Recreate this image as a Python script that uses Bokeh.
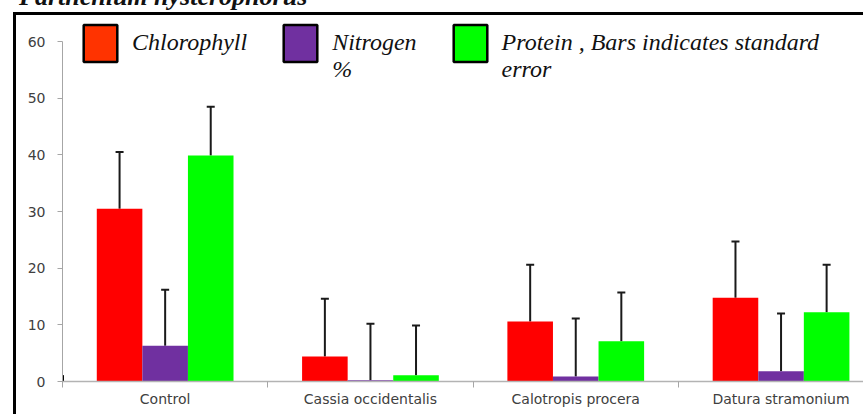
from bokeh.plotting import figure
from bokeh.layouts import column
from bokeh.models import (ColumnDataSource, Whisker, TeeHead, FixedTicker, Range1d,
                          Legend, LegendItem, Div)
from bokeh.embed import file_html
from bokeh.resources import INLINE

# ---- data ----
categories = ["Control", "Cassia occidentalis", "Calotropis procera", "Datura stramonium"]
chlorophyll = [30.5, 4.4, 10.6, 14.8]
chlorophyll_err = [10.0, 10.2, 10.0, 9.9]
nitrogen = [6.3, 0.2, 0.9, 1.8]
nitrogen_err = [9.9, 10.0, 10.2, 10.2]
protein = [39.9, 1.1, 7.1, 12.2]
protein_err = [8.6, 8.8, 8.6, 8.4]
series_names = ["Chlorophyll", "\nNitrogen\n%", "\nProtein , Bars indicates standard\nerror"]
y_ticks = [0, 10, 20, 30, 40, 50, 60]
title_text = "Parthenium hysterophorus"

# ---- styles ----
bar_colors = ["#ff0000", "#7030a0", "#00ff00"]
swatch_colors = ["#ff3300", "#7030a0", "#00ff00"]
BAR_W = 0.222
offsets = [-BAR_W, 0.0, BAR_W]
PX_PER_UNIT = 340 / 60.0
FRAME_TOP = 0
Y0_PIX = 381
W, H = 863, 414

n = len(categories)
x_end = (W - 62) / 205.3
y_end = (Y0_PIX - FRAME_TOP) / PX_PER_UNIT

p = figure(width=W, height=H, output_backend="svg", toolbar_location=None,
           x_range=Range1d(0, x_end), y_range=Range1d(0, y_end),
           min_border_left=62, min_border_right=0, min_border_top=FRAME_TOP,
           min_border_bottom=H - Y0_PIX)
# black frame of the document figure (top and left edges) painted behind a transparent canvas
p.styles = {"background-image": "linear-gradient(#000,#000), linear-gradient(#000,#000)",
            "background-size": "3px 100%, 100% 3px",
            "background-position": "13px 12px, 13px 12px",
            "background-repeat": "no-repeat"}
p.grid.visible = False
p.outline_line_color = None
p.background_fill_alpha = 0
p.border_fill_alpha = 0

series = [(chlorophyll, chlorophyll_err), (nitrogen, nitrogen_err), (protein, protein_err)]
for k, (vals, errs) in enumerate(series):
    xs = [i + 0.5 + offsets[k] for i in range(n)]
    src = ColumnDataSource(dict(x=xs, top=vals, upper=[v + e for v, e in zip(vals, errs)]))
    p.vbar(x="x", top="top", bottom=0, width=BAR_W, source=src,
           fill_color=bar_colors[k], line_color=None)
    p.add_layout(Whisker(source=src, base="x", lower="top", upper="upper",
                         dimension="height", line_color="#1a1a1a", line_width=2,
                         upper_head=TeeHead(size=8, line_color="#1a1a1a", line_width=2),
                         lower_head=None))

# legend with off-range proxy renderers (black-bordered swatches)
items = []
for k in range(3):
    r = p.vbar(x=[-5], top=[1], width=0.1, fill_color=swatch_colors[k],
               line_color="black", line_width=2.5)
    items.append(LegendItem(label=series_names[k], renderers=[r]))
legend = Legend(items=items, orientation="horizontal", location=(17, 298),
                margin=0, padding=0, spacing=32, label_standoff=11,
                glyph_width=42, glyph_height=46,
                border_line_color=None, background_fill_alpha=0,
                label_text_font="Liberation Serif", label_text_font_style="italic",
                label_text_font_size="24px", label_text_color="#111111",
                label_text_line_height=1.17)
p.add_layout(legend, "center")

# y axis
ya = p.yaxis[0]
ya.ticker = FixedTicker(ticks=y_ticks)
ya.bounds = (0, 60)
ya.axis_line_color = "#a6a6a6"
ya.major_tick_line_color = "#a6a6a6"
ya.minor_tick_line_color = None
ya.major_tick_out = 5
ya.major_tick_in = 0
ya.major_label_standoff = 12
ya.major_label_text_font = "DejaVu Sans"
ya.major_label_text_font_size = "14px"
ya.major_label_text_color = "#404040"

# x axis: labels at category centres, separator ticks at boundaries
xa = p.xaxis[0]
xa.ticker = FixedTicker(ticks=[i + 0.5 for i in range(n)], minor_ticks=list(range(n)))
xa.major_label_overrides = {i + 0.5: c for i, c in enumerate(categories)}
xa.axis_line_color = "#b3b3b3"
xa.axis_line_width = 1.5
xa.major_tick_line_color = None
xa.major_tick_out = 0
xa.major_tick_in = 0
xa.minor_tick_line_color = "#a6a6a6"
xa.minor_tick_out = 6
xa.minor_tick_in = 0
xa.major_label_standoff = 3
xa.major_label_text_font = "DejaVu Sans"
xa.major_label_text_font_size = "14px"
xa.major_label_text_color = "#404040"

# caption of the document, cut off by the top edge of the page
caption = Div(text=title_text, styles={
    "position": "absolute", "top": "-21px", "left": "14px",
    "font-family": "Liberation Serif", "font-style": "italic", "font-weight": "bold",
    "font-size": "26px", "line-height": "26px", "white-space": "nowrap",
    "color": "#111111", "z-index": "2"})

layout = column(caption, p)
open("out.html", "w").write(file_html(layout, INLINE))
